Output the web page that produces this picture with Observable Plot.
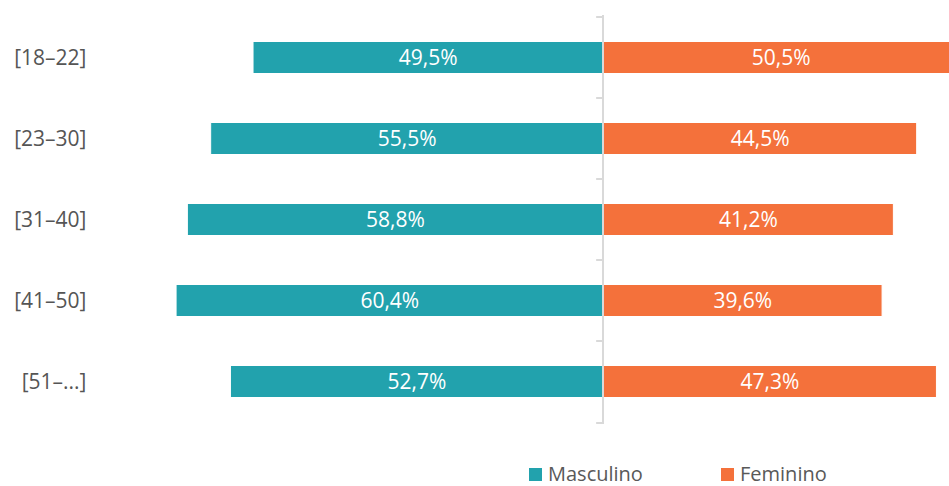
<!DOCTYPE html>
<html><head><meta charset="utf-8">
<script src="https://cdn.jsdelivr.net/npm/d3@7"></script>
<script src="https://cdn.jsdelivr.net/npm/@observablehq/plot@0.6"></script>
<style>
html,body{margin:0;padding:0;background:#fff;overflow:hidden;}
#chart svg{display:block;}
#legend{position:relative;font-family:"Open Sans",sans-serif;font-size:20px;color:#595959;height:46px;}
.item{display:flex;align-items:center;position:absolute;top:23px;line-height:22px;}
.sw{width:13px;height:13px;margin-right:6px;display:inline-block;}
</style></head>
<body><div id="chart"></div><div id="legend"></div>
<script>
const categories = ["[18–22]", "[23–30]", "[31–40]", "[41–50]", "[51–...]"];
const masculino = [49.5, 55.5, 58.8, 60.4, 52.7];
const feminino = [50.5, 44.5, 41.2, 39.6, 47.3];
const seriesNames = ["Masculino", "Feminino"];
const colors = ["#22a2ad", "#f4713b"];

const rows = [];
categories.forEach((c, i) => {
  rows.push({cat: c, serie: seriesNames[0], v: masculino[i], x1: -masculino[i], x2: 0});
  rows.push({cat: c, serie: seriesNames[1], v: feminino[i], x1: 0, x2: feminino[i]});
});
const fmt = v => v.toFixed(1).replace(".", ",") + "%";
const pxPer = 7.06;
const W = 949, ML = 100;
const x0 = -(602.5 - ML) / pxPer, x1 = (W - 602.5) / pxPer;

const plot = Plot.plot({
  width: W, height: 440,
  marginLeft: ML, marginRight: 0, marginTop: 15, marginBottom: 16,
  style: {fontFamily: "'Open Sans', sans-serif", background: "#fff"},
  x: {domain: [x0, x1], axis: null},
  y: {domain: categories, padding: 0},
  color: {domain: seriesNames, range: colors},
  marks: [
    Plot.axisY({tickSize: 0, tickPadding: 14, fontSize: 21, color: "#555", label: null}),
    Plot.barX(rows, {y: "cat", x1: "x1", x2: "x2", fill: "serie", stroke: "#fff", strokeWidth: 1, insetTop: 24.5, insetBottom: 24.5, clip: true}),
    Plot.ruleX([0], {stroke: "#d9d9d9", strokeWidth: 2}),
    Plot.ruleY(categories, {y: d => d, dy: -41, x1: -0.9, x2: 0, stroke: "#d9d9d9", strokeWidth: 2}),
    Plot.ruleY([categories[categories.length - 1]], {y: d => d, dy: 41, x1: -0.9, x2: 0, stroke: "#d9d9d9", strokeWidth: 2}),
    Plot.text(rows, {y: "cat", x: d => (d.x1 + d.x2) / 2, text: d => fmt(d.v), fill: "#fff", fontSize: 21})
  ]
});
document.getElementById("chart").appendChild(plot);

const lg = document.getElementById("legend");
const lefts = [529, 721];
seriesNames.forEach((s, i) => {
  const it = document.createElement("div");
  it.className = "item";
  it.style.left = lefts[i] + "px";
  it.innerHTML = `<span class="sw" style="background:${colors[i]}"></span><span>${s}</span>`;
  lg.appendChild(it);
});
</script></body></html>
